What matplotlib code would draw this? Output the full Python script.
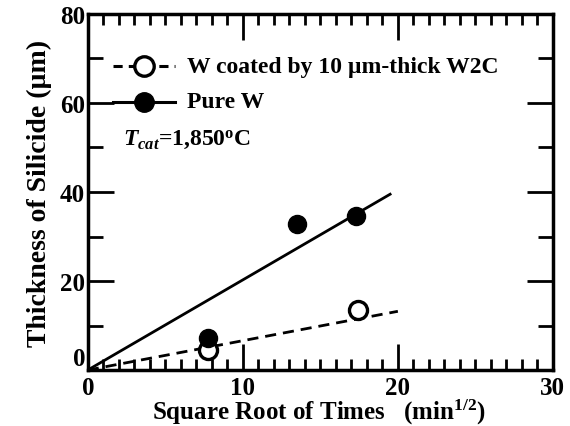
import matplotlib.pyplot as plt
from matplotlib.ticker import MultipleLocator

plt.rcParams['font.family'] = ['Liberation Serif', 'DejaVu Serif']
plt.rcParams['font.weight'] = 'bold'
plt.rcParams['axes.labelweight'] = 'bold'
plt.rcParams['mathtext.fontset'] = 'custom'
plt.rcParams['mathtext.rm'] = 'Liberation Serif:bold'
plt.rcParams['mathtext.it'] = 'Liberation Serif:italic:bold'
plt.rcParams['mathtext.bf'] = 'Liberation Serif:bold'

# measured points
x_coated = [7.75, 17.4]
y_coated = [4.6, 13.5]
x_pure = [7.75, 13.5, 17.3]
y_pure = [7.2, 32.8, 34.6]

# fitted lines
fit_coated_x = [0, 20]
fit_coated_y = [0, 13.2]
fit_pure_x = [0, 19.5]
fit_pure_y = [0, 39.5]

yticks = [0, 20, 40, 60, 80]

fig = plt.figure(figsize=(5.7, 4.27), dpi=100)
ax = fig.add_axes([0.154, 0.131, 0.816, 0.834])

ax.plot(fit_coated_x, fit_coated_y, 'k--', lw=2, dashes=(4, 2.5))
ax.plot(fit_pure_x, fit_pure_y, 'k-', lw=2)
ax.plot(x_coated, y_coated, 'o', mfc='white', mec='k', mew=2.4, ms=13)
ax.plot(x_pure, y_pure, 'o', color='k', ms=13)

# legend drawn by hand like the original
ax.plot([1.6, 5.6], [68.3, 68.3], 'k--', lw=2.2, dashes=(3, 2))
ax.plot([3.6], [68.3], 'o', mfc='white', mec='k', mew=2.4, ms=14)
ax.plot([1.6, 5.6], [60.3, 60.3], 'k-', lw=2.2)
ax.plot([3.6], [60.3], 'o', color='k', ms=14)
ax.text(6.4, 68.3, 'W coated by 10 \u00b5m-thick W2C', fontsize=17, va='center')
ax.text(6.4, 60.3, 'Pure W', fontsize=17, va='center')
ax.text(2.3, 51.8, r'$T_{cat}$=1,850$^{\mathrm{o}}$C', fontsize=17, va='center')

ax.set_xlim(0, 30)
ax.set_ylim(0, 80)
ax.xaxis.set_major_locator(MultipleLocator(10))
ax.xaxis.set_minor_locator(MultipleLocator(1))
ax.set_yticks(yticks)
ax.yaxis.set_minor_locator(MultipleLocator(10))
ax.tick_params(which='both', direction='in', top=True, right=True, width=2, labelsize=18)
ax.tick_params(which='major', length=19, pad=2)
ax.tick_params(axis='x', which='major', pad=4)
ax.tick_params(axis='x', which='minor', length=8)
ax.tick_params(axis='y', which='minor', length=11)
for s in ax.spines.values():
    s.set_linewidth(2.5)
# the y "0" sits just above the bottom spine in the original
ax.get_yticklabels()[0].set_va('bottom')

fig.text(0.56, 0.0, 'Square Root of Times   (min$^{1/2}$)', fontsize=18,
         ha='center', va='bottom')
ax.set_ylabel('Thickness of Silicide (\u00b5m)', fontsize=20, labelpad=6)

fig.savefig('out.png', dpi=100)
